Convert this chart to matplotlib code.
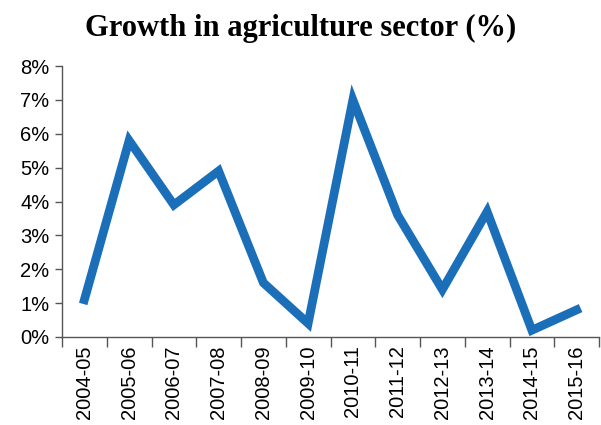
import matplotlib.pyplot as plt
import numpy as np

years = ["2004-05", "2005-06", "2006-07", "2007-08", "2008-09", "2009-10",
         "2010-11", "2011-12", "2012-13", "2013-14", "2014-15", "2015-16"]
growth = [1.1, 5.8, 3.9, 4.9, 1.6, 0.4, 7.0, 3.6, 1.4, 3.7, 0.2, 0.8]
yticks = [0, 1, 2, 3, 4, 5, 6, 7, 8]
ylabels = ["%d%%" % v for v in yticks]

plt.rcParams['font.family'] = ['Liberation Sans', 'DejaVu Sans']

fig = plt.figure(figsize=(6.01, 4.25), dpi=100)
ax = fig.add_axes([62/601, 1-337/425, 537/601, 271/425])

x = np.arange(len(years))
ax.plot(x, growth, color='#1b6fb9', linewidth=6.3, solid_joinstyle='miter')

ax.set_xlim(-0.5, len(years)-0.5)
ax.set_ylim(0, 8)
ax.set_yticks(yticks)
ax.set_yticklabels(ylabels, fontsize=14.5)
ax.set_xticks(x)
ax.set_xticklabels(years, rotation=90, fontsize=14.5)
ax.tick_params(axis='x', length=0, pad=6)
ax.set_xticks(np.arange(-0.5, len(years)), minor=True)
ax.tick_params(axis='x', which='minor', length=7, width=1, color='#555555')
ax.tick_params(axis='y', length=5, width=1, color='#555555', pad=4)

for s in ['top', 'right']:
    ax.spines[s].set_visible(False)
for s in ['left', 'bottom']:
    ax.spines[s].set_color('#555555')
    ax.spines[s].set_linewidth(1)

fig.text(0.5, 1-28/425, "Growth in agriculture sector (%)", ha='center', va='center',
         fontsize=22, fontweight='bold', family=['Liberation Serif', 'DejaVu Serif'])

fig.savefig("out.png", dpi=100)
